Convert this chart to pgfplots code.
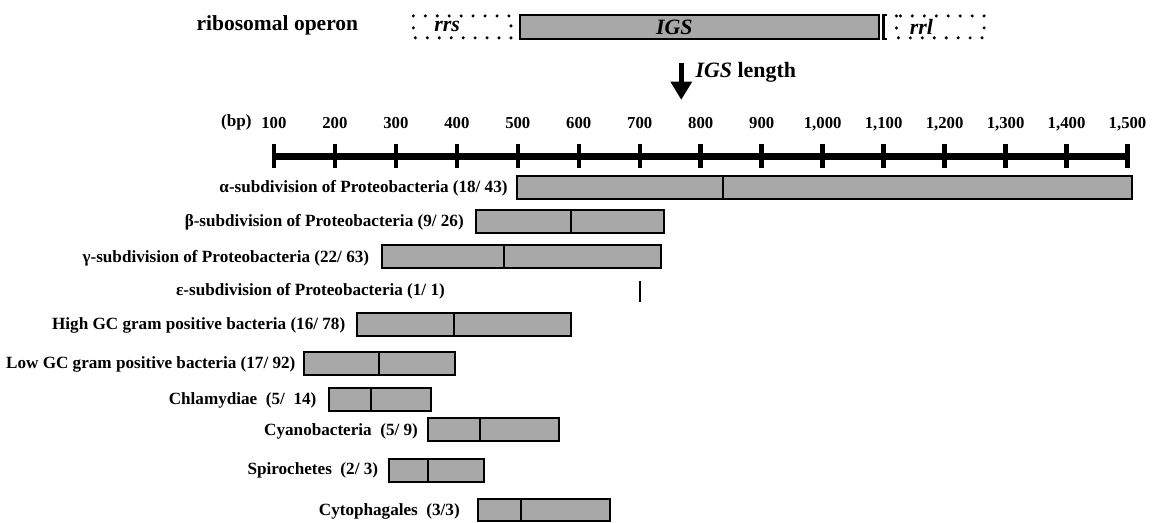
\documentclass[border=0pt]{standalone}
\usepackage{pgfplots}
\pgfplotsset{compat=1.18}
\usepackage{pgfplotstable}
\usepackage{fontspec}
\setmainfont{Liberation Serif}
\definecolor{barfill}{gray}{0.66}
% IGS length range (bp): lower end, median line, upper end
\pgfplotstableread{
y      lo   med  hi
-188   498  836  1507
-222.5 432  588  740
-257.5 278  478  735
-326   237  395  588
-365   149  272  397
-401   191  260  357
-431   352  438  568
-472   289  353  445
-512   434  505  651
}\igsdata
\begin{document}
\begin{tikzpicture}
\pgfplotsset{common/.style={x=0.306070pt, y=0.5pt, xmin=100, xmax=1500, ymin=-530, ymax=-157, clip=false}}
\begin{axis}[common,
  axis x line*=top, axis y line=none,
  xtick={100,200,...,1500},
  tick align=center,
  major tick length=12pt,
  xtick style={line width=2.25pt, black},
  x axis line style={line width=3.5pt},
  typeset ticklabels with strut,
  xticklabel style={font=\bfseries\fontsize{8.4}{9}\selectfont, yshift=2pt},
  /pgf/number format/assume math mode=true,
  /pgf/number format/1000 sep={,},
  ytick=\empty,
]
\addplot[black, line width=1.25pt] coordinates {(700,-282) (700,-303)};
\coordinate (O) at (axis cs:-349.24,0);
\end{axis}
\begin{axis}[common, hide axis, xbar stacked, bar width=23]
\addplot[draw=none, fill=none] table[x=lo, y=y] {\igsdata};
\addplot[fill=barfill, draw=black, line width=1pt] table[x expr=\thisrow{med}-\thisrow{lo}, y=y] {\igsdata};
\addplot[fill=barfill, draw=black, line width=1pt] table[x expr=\thisrow{hi}-\thisrow{med}, y=y] {\igsdata};
\end{axis}
\begin{scope}[shift={(O)}, x=0.5pt, y=-0.5pt]
\path (0,0) rectangle (1153,525);
\begin{scope}[every node/.style={font=\bfseries\fontsize{8.6}{9}\selectfont, anchor=east, inner sep=0pt}]
\node at (253,123) {(bp)};
\node at (510,189) {α-subdivision of Proteobacteria (18/ 43)};
\node at (466,223) {β-subdivision of Proteobacteria (9/ 26)};
\node at (371,259) {γ-subdivision of Proteobacteria (22/ 63)};
\node at (447,292) {ε-subdivision of Proteobacteria (1/ 1)};
\node at (347,327) {High GC gram positive bacteria (16/ 78)};
\node at (297,366) {Low GC gram positive bacteria (17/ 92)};
\node at (318,402) {Chlamydiae\ \ (5/\ \ 14)};
\node at (420,433) {Cyanobacteria\ \ (5/\ 9)};
\node at (380,472) {Spirochetes\ \ (2/\ 3)};
\node at (462,513) {Cytophagales\ \ (3/3)};
\end{scope}
% ribosomal operon sketch
\node[font=\bfseries\fontsize{10.8}{12}\selectfont, anchor=west, inner sep=0pt] at (197,25) {ribosomal operon};
\draw[line width=1.7pt, line cap=round, dash pattern=on 0pt off 6pt] (415,16) rectangle (513,38);
\draw[line width=1.7pt, line cap=round, dash pattern=on 0pt off 6pt] (900,16) rectangle (988,38);
\filldraw[fill=barfill, draw=black, line width=1pt] (522,15) rectangle (883,39);
\draw[line width=1.2pt] (891,15) -- (887,15) -- (887,39) -- (891,39);
\begin{scope}[every node/.style={font=\bfseries\itshape\fontsize{11}{12}\selectfont, inner sep=0pt}]
\node at (449,27) {rrs};
\node at (677,27) {IGS};
\node at (925,27) {rrl};
\end{scope}
\fill (681.5,63) rectangle (686.5,82);
\fill (673,82) -- (695,82) -- (684,100) -- cycle;
\node[font=\bfseries\fontsize{11}{12}\selectfont, anchor=west, inner sep=0pt] at (698,73) {\textit{IGS} length};
\end{scope}
\end{tikzpicture}
\end{document}
